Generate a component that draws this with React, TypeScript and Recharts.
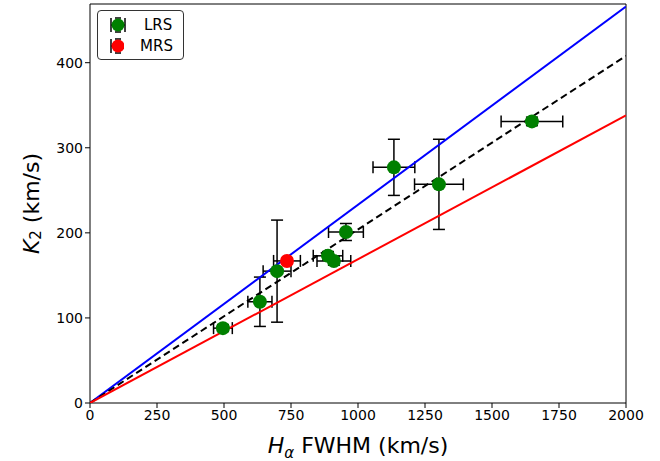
import React from "react";
import {
  ScatterChart,
  Scatter,
  XAxis,
  YAxis,
  ErrorBar,
  Legend,
  ReferenceLine,
} from "recharts";

// LRS measurements (FWHM, K2, errors), in km/s
const lrsFwhm = [496, 634, 698, 888, 910, 955, 1134, 1302, 1649];
const lrsK2 = [88, 119, 155, 173, 167, 201, 277, 257, 331];
const lrsFwhmErr = [35, 45, 52, 55, 63, 65, 78, 91, 115];
const lrsK2Err = [4, 29, 60, 5, 5, 10, 33, 53, 5];

// MRS measurement
const mrsFwhm = [735];
const mrsK2 = [167];
const mrsFwhmErr = [50];
const mrsK2Err = [3];

// K2 = slope * FWHM relations
const fitSlopes = [0.233, 0.204, 0.169];
const fitColors = ["blue", "black", "red"];
const fitDashes = ["", "7 4", ""];

const xTicks = [0, 250, 500, 750, 1000, 1250, 1500, 1750, 2000];
const yTicks = [0, 100, 200, 300, 400];
const xMax = 2000;
const yMax = 469;

const font = "'DejaVu Sans', sans-serif";

const toRows = (xs: number[], ys: number[], xe: number[], ye: number[]) =>
  xs.map((x, i) => ({ x, y: ys[i], xErr: xe[i], yErr: ye[i] }));

const lrsData = toRows(lrsFwhm, lrsK2, lrsFwhmErr, lrsK2Err);
const mrsData = toRows(mrsFwhm, mrsK2, mrsFwhmErr, mrsK2Err);
const fitLines = fitSlopes.map((s) => [
  { x: 0, y: 0 },
  { x: xMax, y: s * xMax },
]);

function LegendIcon({ color }: { color: string }) {
  return (
    <svg width={20} height={18} style={{ display: "block" }}>
      <line x1={3} y1={2} x2={3} y2={16} stroke="black" strokeWidth={1.5} />
      <line x1={17} y1={2} x2={17} y2={16} stroke="black" strokeWidth={1.5} />
      <line x1={3} y1={9} x2={17} y2={9} stroke="black" strokeWidth={1.5} />
      <line x1={7} y1={2} x2={13} y2={2} stroke="black" strokeWidth={1.5} />
      <line x1={7} y1={16} x2={13} y2={16} stroke="black" strokeWidth={1.5} />
      <circle cx={10} cy={9} r={6.5} fill={color} />
    </svg>
  );
}

function LegendBox() {
  const items = [
    { label: "LRS", color: "green" },
    { label: "MRS", color: "red" },
  ];
  return (
    <div
      style={{
        border: "1px solid #333",
        borderRadius: 4,
        background: "white",
        padding: "3px 10px 3px 10px",
        width: 65,
        fontFamily: font,
        fontSize: 15,
      }}
    >
      {items.map((it) => (
        <div
          key={it.label}
          style={{ display: "flex", alignItems: "center", height: 21 }}
        >
          <LegendIcon color={it.color} />
          <span style={{ marginLeft: 16 }}>{it.label}</span>
        </div>
      ))}
    </div>
  );
}

const XLabel = (props: any) => {
  const { x, width } = props.viewBox;
  return (
    <text
      x={x + width / 2}
      y={453}
      textAnchor="middle"
      fontFamily={font}
      fontSize={22}
      fill="black"
    >
      <tspan fontStyle="italic">H</tspan>
      <tspan fontStyle="italic" fontSize={15} dy={5}>
        α
      </tspan>
      <tspan dy={-5}> FWHM (km/s)</tspan>
    </text>
  );
};

const YLabel = (props: any) => {
  const { y, height } = props.viewBox;
  const cx = 31;
  const cy = y + height / 2;
  return (
    <text
      x={cx}
      y={cy}
      transform={`rotate(-90, ${cx}, ${cy})`}
      textAnchor="middle"
      dominantBaseline="central"
      fontFamily={font}
      fontSize={22}
      fill="black"
    >
      <tspan fontStyle="italic">K</tspan>
      <tspan fontSize={15} dy={5}>
        2
      </tspan>
      <tspan dy={-5}> (km/s)</tspan>
    </text>
  );
};

export default function App() {
  return (
    <div
      style={{
        position: "absolute",
        top: 0,
        left: 0,
        width: 660,
        height: 461,
        background: "white",
      }}
    >
      <ScatterChart
        width={660}
        height={461}
        margin={{ top: 4, right: 34, left: 0, bottom: 0 }}
      >
        <XAxis
          type="number"
          dataKey="x"
          domain={[0, xMax]}
          ticks={xTicks}
          allowDataOverflow
          height={58}
          stroke="black"
          tickSize={5}
          tick={{ fill: "black", fontSize: 14, fontFamily: font }}
          label={<XLabel />}
        />
        <YAxis
          type="number"
          dataKey="y"
          domain={[0, yMax]}
          ticks={yTicks}
          allowDataOverflow
          width={90}
          stroke="black"
          tickSize={5}
          tick={{ fill: "black", fontSize: 14, fontFamily: font }}
          label={<YLabel />}
        />
        <ReferenceLine y={yMax} stroke="black" strokeWidth={1} ifOverflow="visible" />
        <ReferenceLine x={xMax} stroke="black" strokeWidth={1} ifOverflow="visible" />
        {fitLines.map((pts, i) => (
          <Scatter
            key={i}
            data={pts}
            line={{
              stroke: fitColors[i],
              strokeWidth: 2,
              strokeDasharray: fitDashes[i] || undefined,
            }}
            shape={() => null}
            isAnimationActive={false}
            legendType="none"
          />
        ))}
        <Scatter
          name="LRS"
          data={lrsData}
          fill="green"
          shape={(p: any) => <circle cx={p.cx} cy={p.cy} r={7} fill="green" />}
          isAnimationActive={false}
        >
          <ErrorBar dataKey="xErr" direction="x" width={6} stroke="black" strokeWidth={1.5} />
          <ErrorBar dataKey="yErr" direction="y" width={6} stroke="black" strokeWidth={1.5} />
        </Scatter>
        <Scatter
          name="MRS"
          data={mrsData}
          fill="red"
          shape={(p: any) => <circle cx={p.cx} cy={p.cy} r={7} fill="red" />}
          isAnimationActive={false}
        >
          <ErrorBar dataKey="xErr" direction="x" width={6} stroke="black" strokeWidth={1.5} />
          <ErrorBar dataKey="yErr" direction="y" width={6} stroke="black" strokeWidth={1.5} />
        </Scatter>
        <Legend
          layout="vertical"
          align="center"
          verticalAlign="middle"
          content={() => <LegendBox />}
          wrapperStyle={{ top: 10, left: 97, width: "auto", height: "auto" }}
        />
      </ScatterChart>
    </div>
  );
}
